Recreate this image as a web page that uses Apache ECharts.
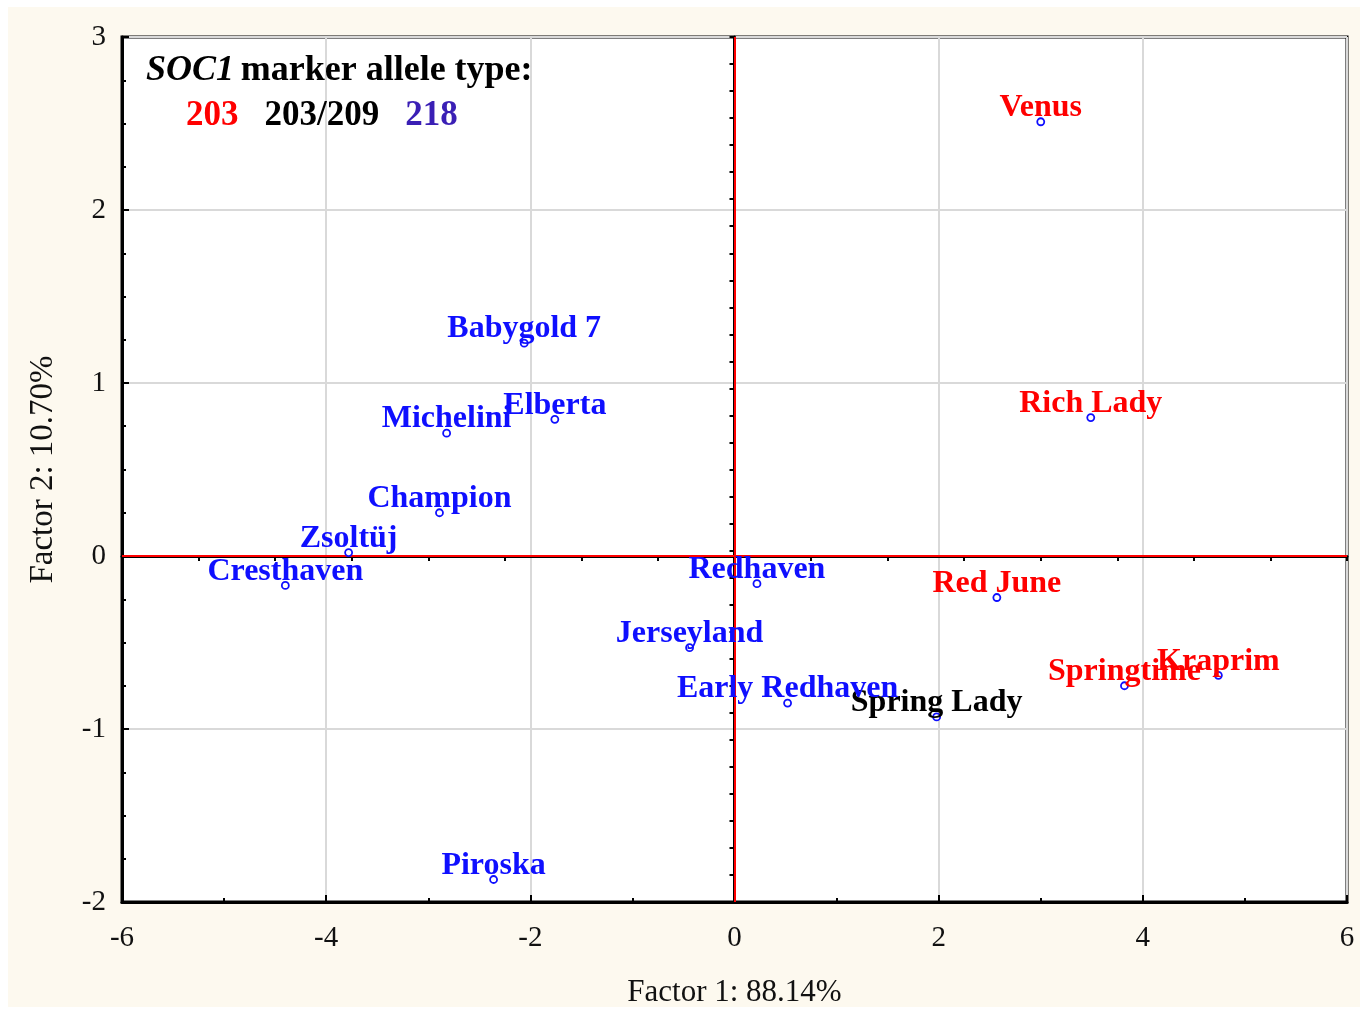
<!DOCTYPE html>
<html>
<head>
<meta charset="utf-8">
<script src="https://cdn.jsdelivr.net/npm/echarts@6/dist/echarts.min.js"></script>
<style>
html,body{margin:0;padding:0;background:#ffffff;width:1365px;height:1014px;overflow:hidden;}
#wrap{position:absolute;left:8px;top:7px;width:1352px;height:1000px;background:#fdf9ef;}
#chart{width:1352px;height:1000px;}
</style>
</head>
<body>
<div id="wrap"><div id="chart"></div></div>
<script>
// Cultivar names, factor scores and SOC1 allele type
var cultivars = ['Venus','Babygold 7','Michelini','Elberta','Rich Lady','Champion','Zsoltüj','Cresthaven','Redhaven','Red June','Jerseyland','Early Redhaven','Spring Lady','Springtime','Kraprim','Piroska'];
var factor1 = [3.00,-2.06,-2.82,-1.76,3.49,-2.89,-3.78,-4.40,0.22,2.57,-0.44,0.52,1.98,3.82,4.74,-2.36];
var factor2 = [2.51,1.23,0.71,0.79,0.80,0.25,0.02,-0.17,-0.16,-0.24,-0.53,-0.85,-0.93,-0.75,-0.69,-1.87];
var allele = ['203','218','218','218','203','218','218','218','218','203','218','218','203/209','203','203','218'];
var alleleTypes = ['203','203/209','218'];
var alleleColors = {'203':'#ff0000','203/209':'#000000','218':'#0f0fff'};
var xTicks = [-6,-4,-2,0,2,4,6];
var yTicks = [-2,-1,0,1,2,3];

var chart = echarts.init(document.getElementById('chart'));
var serif = '"Liberation Serif","Times New Roman",serif';

var series = alleleTypes.map(function(t, k){
  var data = [];
  for (var i = 0; i < cultivars.length; i++) {
    if (allele[i] === t) data.push({name: cultivars[i], value: [factor1[i], factor2[i]]});
  }
  var s = {
    type: 'scatter',
    xAxisIndex: 0, yAxisIndex: 0,
    data: data,
    symbol: 'circle',
    symbolSize: 7,
    z: 5,
    itemStyle: {color: '#ffffff', borderColor: '#0f0fff', borderWidth: 1.8, opacity: 1},
    label: {
      show: true, position: 'inside', offset: [0, -14], opacity: 1,
      formatter: '{b}', color: alleleColors[t],
      fontFamily: serif, fontWeight: 'bold', fontSize: 32
    },
    emphasis: {disabled: true}
  };
  if (k === 0) {
    s.markLine = {
      silent: true, symbol: 'none', animation: false,
      label: {show: false},
      lineStyle: {color: '#ff0000', width: 2, type: 'solid', opacity: 1},
      data: [{xAxis: 0}, {yAxis: 0}]
    };
  }
  return s;
});

chart.setOption({
  animation: false,
  backgroundColor: 'transparent',
  grid: {left: 114, top: 30, right: 13, bottom: 105, outerBoundsMode: 'none', containLabel: false,
         show: true, backgroundColor: '#ffffff', borderColor: '#000', borderWidth: 3},
  xAxis: [{
    type: 'value', min: xTicks[0], max: xTicks[xTicks.length-1], interval: 2,
    name: 'Factor 1: 88.14%', nameLocation: 'middle', nameGap: 75,
    nameTextStyle: {fontFamily: serif, fontSize: 31, color: '#111'},
    axisLine: {show: true, onZero: false, lineStyle: {color: '#000', width: 3}},
    axisTick: {show: true, inside: true, length: 7, lineStyle: {color: '#000', width: 2}},
    minorTick: {show: true, splitNumber: 2, length: 4, lineStyle: {color: '#000', width: 2}},
    axisLabel: {fontFamily: serif, fontSize: 29, color: '#111', margin: 22},
    splitLine: {show: true, lineStyle: {color: '#d9d9d9', width: 2}}
  },{
    type: 'value', position: 'top', min: 0, max: 16, interval: 1,
    axisLine: {show: true, lineStyle: {color: '#000', width: 3}},
    axisTick: {show: true, inside: true, length: 5, lineStyle: {color: '#000', width: 2}},
    axisLabel: {show: false}, splitLine: {show: false}
  }],
  yAxis: [{
    type: 'value', min: yTicks[0], max: yTicks[yTicks.length-1], interval: 1,
    name: 'Factor 2: 10.70%', nameLocation: 'middle', nameGap: 62,
    nameTextStyle: {fontFamily: serif, fontSize: 33, color: '#111'},
    axisLine: {show: true, onZero: false, lineStyle: {color: '#000', width: 3}},
    axisTick: {show: true, inside: true, length: 7, lineStyle: {color: '#000', width: 2}},
    minorTick: {show: true, splitNumber: 4, length: 4, lineStyle: {color: '#000', width: 2}},
    axisLabel: {fontFamily: serif, fontSize: 29, color: '#111', margin: 16},
    splitLine: {show: true, lineStyle: {color: '#d9d9d9', width: 2}}
  },{
    type: 'value', position: 'right', min: 0, max: 32, interval: 1,
    axisLine: {show: true, lineStyle: {color: '#000', width: 3}},
    axisTick: {show: true, inside: true, length: 5, lineStyle: {color: '#000', width: 2}},
    axisLabel: {show: false}, splitLine: {show: false}
  }],
  graphic: [{
    type: 'text', left: 138, top: 46, z: 10,
    style: {
      text: '{i|SOC1}  {b|marker allele type:}',
      rich: {
        i: {fontFamily: serif, fontSize: 36, fontWeight: 'bold', fontStyle: 'italic', fill: '#000'},
        b: {fontFamily: serif, fontSize: 36, fontWeight: 'bold', fill: '#000'}
      }
    }
  },{
    type: 'text', left: 178, top: 91, z: 10,
    style: {
      text: '{r|' + alleleTypes[0] + '}{g|}{k|' + alleleTypes[1] + '}{g|}{u|' + alleleTypes[2] + '}',
      rich: {
        g: {width: 26},
        r: {fontFamily: serif, fontSize: 35, fontWeight: 'bold', fill: '#ff0000'},
        k: {fontFamily: serif, fontSize: 35, fontWeight: 'bold', fill: '#000000'},
        u: {fontFamily: serif, fontSize: 35, fontWeight: 'bold', fill: '#3a1fb5'}
      }
    }
  }],
  series: series
});
</script>
</body>
</html>
